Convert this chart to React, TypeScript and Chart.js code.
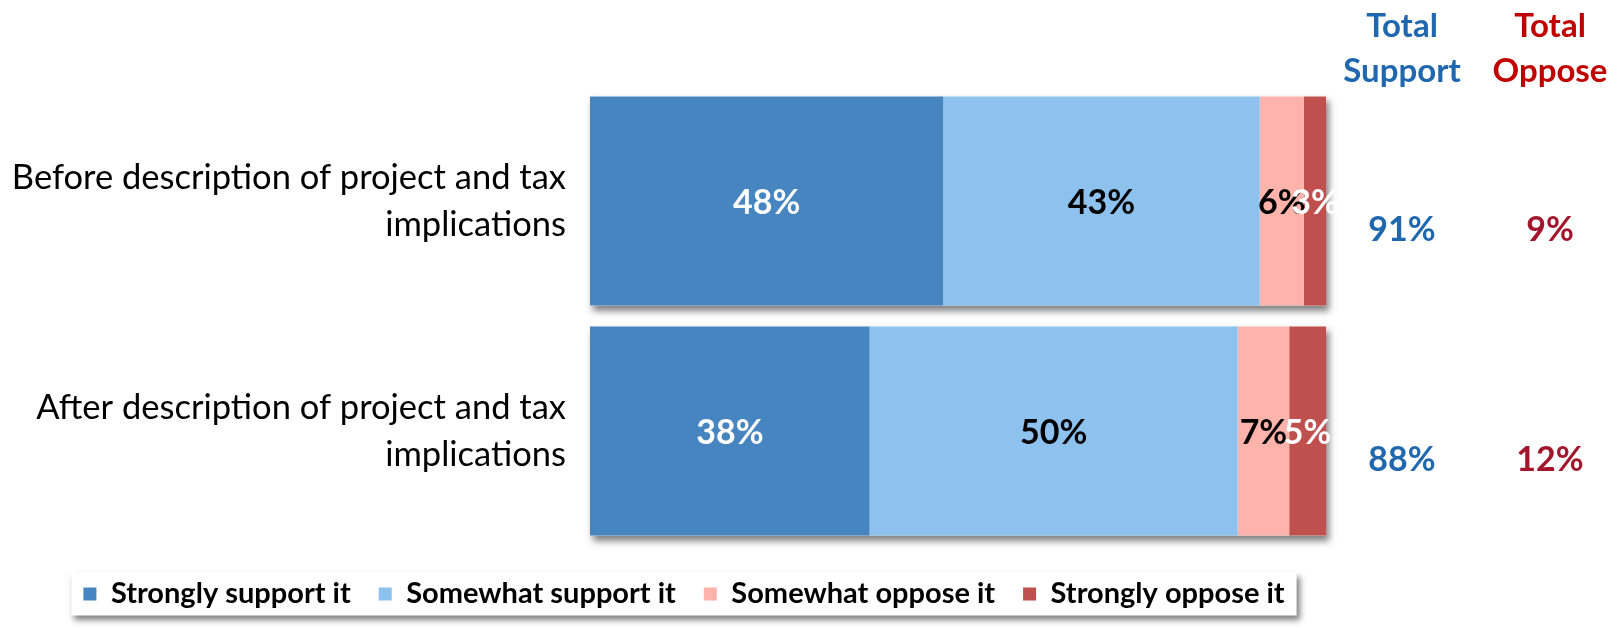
import React, { useEffect, useRef } from "react";
import { Chart, registerables } from "chart.js";

Chart.register(...registerables);

const categories: string[][] = [
  ["Before description of project and tax", "implications"],
  ["After description of project and tax", "implications"],
];
const seriesNames = [
  "Strongly support it",
  "Somewhat support it",
  "Somewhat oppose it",
  "Strongly oppose it",
];
const stronglySupport = [48, 38];
const somewhatSupport = [43, 50];
const somewhatOppose = [6, 7];
const stronglyOppose = [3, 5];
const totalSupport = [91, 88];
const totalOppose = [9, 12];
const supportHeader = ["Total", "Support"];
const opposeHeader = ["Total", "Oppose"];

const seriesColors = ["#4785C1", "#8DC1EE", "#FFB3AB", "#C0504D"];
const labelColors = ["#FFFFFF", "#000000", "#000000", "#FFFFFF"];
const SUPPORT_BLUE = "#1F67AE";
const OPPOSE_HEADER_RED = "#C00000";
const OPPOSE_VALUE_RED = "#A3152B";

const LABEL_FONT = "Lato, 'Open Sans', sans-serif";

const legendShiftPlugin = {
  id: "legendShift",
  afterLayout(chart: any) {
    const lg = chart.legend;
    if (!lg) return;
    lg.left += 21;
    lg.right += 21;
  },
};

const shadowPlugin = {
  id: "barShadow",
  beforeDatasetsDraw(chart: any) {
    const ctx = chart.ctx;
    const first = chart.getDatasetMeta(0);
    const last = chart.getDatasetMeta(chart.data.datasets.length - 1);
    ctx.save();
    ctx.shadowColor = "rgba(0,0,0,0.5)";
    ctx.shadowBlur = 7;
    ctx.shadowOffsetX = 3;
    ctx.shadowOffsetY = 5;
    ctx.fillStyle = "#ffffff";
    first.data.forEach((bar: any, j: number) => {
      const p = bar.getProps(["x", "y", "base", "height"], true);
      const l = last.data[j].getProps(["x"], true);
      ctx.fillRect(p.base, p.y - p.height / 2, l.x - p.base, p.height);
    });
    ctx.restore();
  },
};

const legendBoxPlugin = {
  id: "legendBox",
  beforeDraw(chart: any) {
    const lg = chart.legend;
    if (!lg || !lg.legendHitBoxes || !lg.legendHitBoxes.length) return;
    const boxes = lg.legendHitBoxes;
    const left = Math.min(...boxes.map((b: any) => b.left)) - 12;
    const right = Math.max(...boxes.map((b: any) => b.left + b.width)) + 12;
    const top = boxes[0].top - 7;
    const bottom = boxes[0].top + boxes[0].height + 7;
    const ctx = chart.ctx;
    ctx.save();
    ctx.shadowColor = "rgba(0,0,0,0.5)";
    ctx.shadowBlur = 6;
    ctx.shadowOffsetX = 3;
    ctx.shadowOffsetY = 4;
    ctx.fillStyle = "#ffffff";
    ctx.fillRect(left, top, right - left, bottom - top);
    ctx.restore();
  },
};

const dataLabelPlugin = {
  id: "dataLabels",
  afterDatasetsDraw(chart: any) {
    const ctx = chart.ctx;
    ctx.save();
    ctx.font = `bold 34px ${LABEL_FONT}`;
    ctx.textAlign = "center";
    ctx.textBaseline = "middle";
    chart.data.datasets.forEach((ds: any, i: number) => {
      const meta = chart.getDatasetMeta(i);
      meta.data.forEach((bar: any, j: number) => {
        const p = bar.getProps(["x", "y", "base"], true);
        ctx.fillStyle = labelColors[i];
        ctx.fillText(`${ds.data[j]}%`, (p.x + p.base) / 2, p.y + 2);
      });
    });
    ctx.restore();
  },
};

const totalsPlugin = {
  id: "totals",
  afterDraw(chart: any) {
    const ctx = chart.ctx;
    const area = chart.chartArea;
    const yScale = chart.scales.y;
    const supportX = area.right + 76;
    const opposeX = area.right + 224;
    ctx.save();
    ctx.textAlign = "center";
    ctx.textBaseline = "middle";
    ctx.font = `bold 33px ${LABEL_FONT}`;
    supportHeader.forEach((t, k) => {
      ctx.fillStyle = SUPPORT_BLUE;
      ctx.fillText(t, supportX, area.top - 60 + k * 45);
    });
    opposeHeader.forEach((t, k) => {
      ctx.fillStyle = OPPOSE_HEADER_RED;
      ctx.fillText(t, opposeX, area.top - 60 + k * 45);
    });
    ctx.font = `bold 34px ${LABEL_FONT}`;
    categories.forEach((_, j) => {
      const y = yScale.getPixelForValue(j) + 29;
      ctx.fillStyle = SUPPORT_BLUE;
      ctx.fillText(`${totalSupport[j]}%`, supportX, y);
      ctx.fillStyle = OPPOSE_VALUE_RED;
      ctx.fillText(`${totalOppose[j]}%`, opposeX, y);
    });
    ctx.restore();
  },
};

export default function App() {
  const ref = useRef<HTMLCanvasElement | null>(null);

  useEffect(() => {
    if (!ref.current) return;
    const series = [stronglySupport, somewhatSupport, somewhatOppose, stronglyOppose];
    const chart = new Chart(ref.current, {
      type: "bar",
      data: {
        labels: categories as any,
        datasets: series.map((d, i) => ({
          label: seriesNames[i],
          data: d,
          backgroundColor: seriesColors[i],
          borderWidth: 0,
          categoryPercentage: 1,
          barPercentage: 0.909,
        })),
      },
      options: {
        indexAxis: "y",
        responsive: true,
        maintainAspectRatio: false,
        animation: false,
        layout: { padding: { left: 0, right: 288, top: 86, bottom: 9.5 } },
        scales: {
          x: {
            stacked: true,
            min: 0,
            max: 100,
            display: true,
            ticks: { display: false },
            grid: { display: false, drawTicks: false },
            border: { display: false },
            afterFit: (s: any) => {
              s.height = 5.5;
            },
          },
          y: {
            stacked: true,
            grid: { display: false, drawTicks: false },
            border: { display: false },
            ticks: {
              padding: 24,
              color: "#000000",
              font: { family: LABEL_FONT, size: 34.5, lineHeight: 1.36 },
            },
            afterFit: (s: any) => {
              s.width = 590;
            },
          },
        },
        plugins: {
          legend: {
            position: "bottom",
            align: "center",
            labels: {
              boxWidth: 13,
              boxHeight: 13,
              padding: 28,
              color: "#000000",
              font: { family: LABEL_FONT, size: 29, weight: "bold" },
            },
          },
          tooltip: { enabled: false },
        },
      },
      plugins: [legendShiftPlugin, legendBoxPlugin, shadowPlugin, dataLabelPlugin, totalsPlugin],
    });
    return () => chart.destroy();
  }, []);

  return (
    <div style={{ position: "fixed", left: 0, top: 0, width: 1614, height: 628, background: "#fff" }}>
      <canvas ref={ref} />
    </div>
  );
}
